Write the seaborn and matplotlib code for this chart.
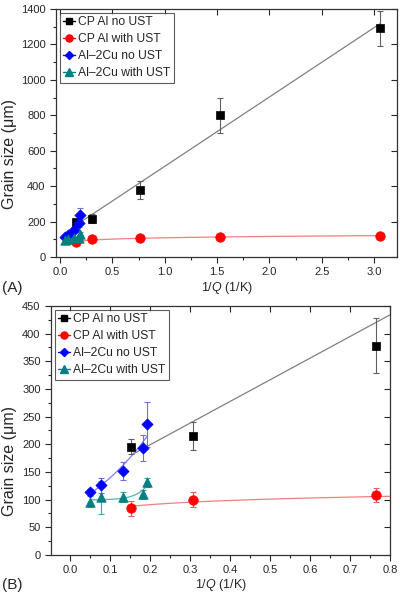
import numpy as np
import pandas as pd
import matplotlib
matplotlib.use('Agg')
import matplotlib.pyplot as plt
import seaborn as sns
from matplotlib.lines import Line2D
from matplotlib.ticker import MultipleLocator

# data
cp_x = [0.153, 0.306, 0.765, 1.53, 3.06]
cp_no_ust = [196, 215, 378, 800, 1290]
cp_no_ust_err = [13, 25, 50, 100, 100]
cp_ust = [84, 100, 108, 111, 120]
cp_ust_err = [14, 13, 13, 8, 8]

cu_x = [0.05, 0.077, 0.133, 0.183, 0.192]
cu_no_ust = [114, 126, 152, 193, 236]
cu_no_ust_err = [5, 14, 16, 24, 40]
cu_ust = [96, 104, 105, 110, 131]
cu_ust_err = [10, 30, 9, 8, 9]

LABELS = ['CP Al no UST', 'CP Al with UST', 'Al\u20132Cu no UST', 'Al\u20132Cu with UST']
COLORS = ['black', '#ff0000', '#0000ff', '#008080']
FIT_COLORS = ['#808080', '#f08080', '#7f7fff', '#5fb0b0']
ERR_COLORS = ['#606060', '#e06060', '#7070e0', '#50a0a0']
MARKERS = ['s', 'o', 'D', '^']
MSIZE = [5, 6, 5, 6]

sns.set_style('ticks')
plt.rcParams['font.family'] = ['Liberation Sans', 'DejaVu Sans']
plt.rcParams['mathtext.fontset'] = 'custom'
plt.rcParams['mathtext.it'] = 'Liberation Sans:italic'
plt.rcParams['mathtext.rm'] = 'Liberation Sans'


def fits():
    out = []
    # linear fit, CP Al no UST
    xs = np.linspace(min(cp_x), max(cp_x), 100)
    p = np.polyfit(cp_x, cp_no_ust, 1)
    out.append((xs, np.polyval(p, xs)))
    # log fit, CP Al with UST
    p = np.polyfit(np.log(cp_x), cp_ust, 1)
    out.append((xs, np.polyval(p, np.log(xs))))
    # exponential fit, Al-2Cu no UST
    xc = np.linspace(min(cu_x), max(cu_x), 100)
    p = np.polyfit(cu_x, np.log(cu_no_ust), 1)
    out.append((xc, np.exp(np.polyval(p, xc))))
    # steep exponential fit, Al-2Cu with UST
    k = 35
    p = np.polyfit(np.exp(k * np.array(cu_x)), cu_ust, 1)
    out.append((xc, np.polyval(p, np.exp(k * xc))))
    return out


series = [
    (cp_x, cp_no_ust, cp_no_ust_err),
    (cp_x, cp_ust, cp_ust_err),
    (cu_x, cu_no_ust, cu_no_ust_err),
    (cu_x, cu_ust, cu_ust_err),
]


def draw(ax):
    curves = fits()
    for i, (x, y, e) in enumerate(series):
        fx, fy = curves[i]
        sns.lineplot(x=fx, y=fy, ax=ax, color=FIT_COLORS[i], lw=0.9, zorder=2)
        ax.errorbar(x, y, yerr=e, fmt='none', ecolor=ERR_COLORS[i], elinewidth=0.8,
                    capsize=2.5, capthick=0.8, zorder=3)
        df = pd.DataFrame({'x': x, 'y': y})
        sns.scatterplot(data=df, x='x', y='y', ax=ax, marker=MARKERS[i], color=COLORS[i],
                        s=MSIZE[i] ** 2 * 1.3, edgecolor=COLORS[i], linewidth=0.5, zorder=4)
    handles = [Line2D([0], [0], color=COLORS[i], marker=MARKERS[i], ms=MSIZE[i] * 0.85, lw=1)
               for i in range(4)]
    leg = ax.legend(handles, LABELS, loc='upper left', fontsize=8.7, frameon=True, fancybox=False,
                    edgecolor='#333333', handlelength=1.0, handletextpad=0.2, labelspacing=0.42,
                    borderpad=0.3, borderaxespad=0.3)
    leg.get_frame().set_linewidth(0.8)
    ax.set_xlabel('1/$\\mathit{Q}$ (1/K)', fontsize=9, labelpad=1.5)
    ax.set_ylabel('Grain size (\u03bcm)', fontsize=11.5)
    ax.tick_params(which='both', labelsize=8, width=0.8)
    ax.tick_params(which='major', length=4)
    ax.tick_params(which='minor', length=2.5)
    ax.tick_params(axis='x', which='major', top=True, labeltop=False)
    ax.tick_params(axis='y', which='major', right=True, labelright=False)
    for s in ax.spines.values():
        s.set_linewidth(0.9)
        s.set_color('#333333')
    # Origin style: top/right ticks point inward
    for t in ax.xaxis.get_major_ticks():
        t.tick2line.set_marker(3)
    for t in ax.yaxis.get_major_ticks():
        t.tick2line.set_marker(0)


fig = plt.figure(figsize=(4, 5.93), dpi=100)
ax1 = fig.add_axes([0.14, 0.5666, 0.8525, 0.4182])
ax2 = fig.add_axes([0.1275, 0.0641, 0.8475, 0.42])

ax1.set_xlim(-0.04, 3.22)
ax1.set_ylim(0, 1400)
ax1.xaxis.set_major_locator(MultipleLocator(0.5))
ax1.xaxis.set_minor_locator(MultipleLocator(0.25))
ax1.yaxis.set_major_locator(MultipleLocator(200))
ax1.yaxis.set_minor_locator(MultipleLocator(100))
ax1.xaxis.set_major_formatter('{x:.1f}')
draw(ax1)
ax1.set_xlim(-0.04, 3.22)
ax1.set_ylim(0, 1400)
ax1.yaxis.set_label_coords(-0.114, 0.415)

ax2.set_xlim(-0.048, 0.8)
ax2.set_ylim(0, 450)
ax2.xaxis.set_major_locator(MultipleLocator(0.1))
ax2.xaxis.set_minor_locator(MultipleLocator(0.05))
ax2.yaxis.set_major_locator(MultipleLocator(50))
ax2.yaxis.set_minor_locator(MultipleLocator(25))
ax2.xaxis.set_major_formatter('{x:.1f}')
draw(ax2)
ax2.set_xlim(-0.048, 0.8)
ax2.set_ylim(0, 450)
ax2.yaxis.set_label_coords(-0.100, 0.378)

fig.text(0.005, 0.515, '(A)', fontsize=11, ha='left', va='center')
fig.text(0.005, 0.013, '(B)', fontsize=11, ha='left', va='center')

fig.savefig('out.png', dpi=100)
